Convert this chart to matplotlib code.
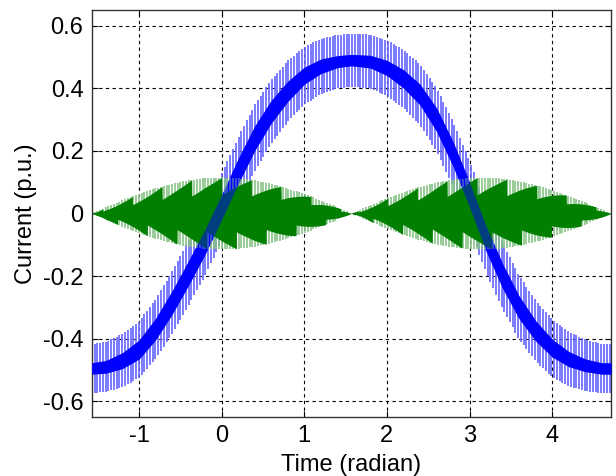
import numpy as np
import matplotlib.pyplot as plt

plt.rcParams['font.family'] = ['Liberation Sans', 'DejaVu Sans']
plt.rcParams['axes.unicode_minus'] = False

# readings from the picture (x in radian, y in p.u.)
x_pts = [-1.571, -1.4, -1.2, -1.0, -0.8, -0.6, -0.4, -0.2, 0.0, 0.2, 0.4, 0.6, 0.8, 1.0, 1.2, 1.4, 1.571,
         1.8, 2.0, 2.2, 2.4, 2.6, 2.8, 3.0, 3.2, 3.4, 3.6, 3.8, 4.0, 4.2, 4.4, 4.6, 4.712]
blue_center = [-0.495, -0.490, -0.470, -0.435, -0.370, -0.285, -0.190, -0.090, 0.020, 0.135, 0.240,
               0.325, 0.390, 0.440, 0.470, 0.485, 0.490,
               0.485, 0.465, 0.430, 0.380, 0.300, 0.190, 0.060, -0.080, -0.200, -0.300, -0.375,
               -0.430, -0.465, -0.485, -0.495, -0.495]
blue_core = [0.018, 0.020, 0.025, 0.030, 0.034, 0.037, 0.039, 0.040, 0.040, 0.040, 0.039, 0.036,
             0.032, 0.027, 0.023, 0.019, 0.018,
             0.020, 0.024, 0.029, 0.033, 0.037, 0.039, 0.040, 0.040, 0.039, 0.036, 0.032,
             0.028, 0.024, 0.020, 0.018, 0.018]
blue_spike = [0.078, 0.080, 0.085, 0.090, 0.095, 0.100, 0.104, 0.107, 0.108, 0.108, 0.106, 0.102,
              0.097, 0.092, 0.088, 0.085, 0.085,
              0.086, 0.089, 0.093, 0.097, 0.101, 0.105, 0.108, 0.108, 0.106, 0.102, 0.097,
              0.092, 0.087, 0.082, 0.079, 0.078]
green_env = [0.0, 0.020, 0.042, 0.062, 0.080, 0.095, 0.106, 0.113, 0.115, 0.113, 0.106, 0.095,
             0.080, 0.062, 0.042, 0.020, 0.0,
             0.026, 0.048, 0.068, 0.085, 0.099, 0.108, 0.114, 0.115, 0.111, 0.103, 0.091,
             0.075, 0.056, 0.035, 0.013, 0.0]

# where the dark green band drops back (one tooth of the beat pattern each)
green_drop_x = [-1.44, -1.08, -0.72, -0.36, 0.0, 0.36, 0.72, 1.08, 1.44,
                1.65, 2.01, 2.37, 2.73, 3.09, 3.45, 3.81, 4.17, 4.53]
green_core_low = 0.52

stroke_step = 0.0335

xmin, xmax = -np.pi / 2, 3 * np.pi / 2

fig = plt.figure(figsize=(6.16, 4.76), dpi=100)
ax = fig.add_axes([0.149, 0.124, 0.843, 0.855])

xs = np.arange(xmin, xmax, stroke_step)
xf = np.linspace(xmin, xmax, 3000)

bc = np.interp(xs, x_pts, blue_center)
bs = np.interp(xs, x_pts, blue_spike)
ax.vlines(xs, bc - bs, bc + bs, color='#6464ff', lw=1.2, zorder=2)

bcf = np.interp(xf, x_pts, blue_center)
bcore = np.interp(xf, x_pts, blue_core)
ax.fill_between(xf, bcf - bcore, bcf + bcore, color='#0000ff', lw=0, zorder=3)

ge = np.interp(xs, x_pts, green_env)
ax.vlines(xs, -ge, ge, color='#86c386', lw=1.2, zorder=4)

# dark green core: saw-tooth edges between the drop points
P = green_drop_x[1] - green_drop_x[0]
ux, uy, lx, ly = [xmin], [green_core_low], [xmin], [-(green_core_low + 1) / 2]
for d in green_drop_x:
    ux += [d - 1e-4, d]
    uy += [1.0, green_core_low]
    m = d + P / 2
    lx += [m - 1e-4, m]
    ly += [-1.0, -green_core_low]
ux.append(xmax)
uy.append(green_core_low + 0.3)
lx.append(xmax)
ly.append(-green_core_low - 0.3)
gef = np.interp(xf, x_pts, green_env)
up = np.interp(xf, ux, uy) * gef
lo = np.interp(xf, lx, ly) * gef
ax.fill_between(xf, lo, up, color='#007f00', lw=0, zorder=5)

# blue again, half see-through, where the two traces cross
ax.fill_between(xf, bcf - bcore, bcf + bcore, color='#0000ff', alpha=0.5, lw=0, zorder=6)

ax.set_xlim(xmin, xmax)
ax.set_ylim(-0.65, 0.65)
ax.set_xticks([-1, 0, 1, 2, 3, 4])
ax.set_yticks([-0.6, -0.4, -0.2, 0, 0.2, 0.4, 0.6])
ax.set_yticklabels(['-0.6', '-0.4', '-0.2', '0', '0.2', '0.4', '0.6'])
ax.grid(True, color='black', linestyle=(0, (3, 3)), lw=0.8)
ax.set_axisbelow(True)
ax.tick_params(direction='in', top=True, right=True, length=4, labelsize=17, pad=6)
for s in ax.spines.values():
    s.set_color('#333333')
    s.set_linewidth(1.0)

ax.set_xlabel('Time (radian)', fontsize=17, labelpad=5)
ax.set_ylabel('Current (p.u.)', fontsize=17, labelpad=4)

fig.savefig('out.png', dpi=100)
